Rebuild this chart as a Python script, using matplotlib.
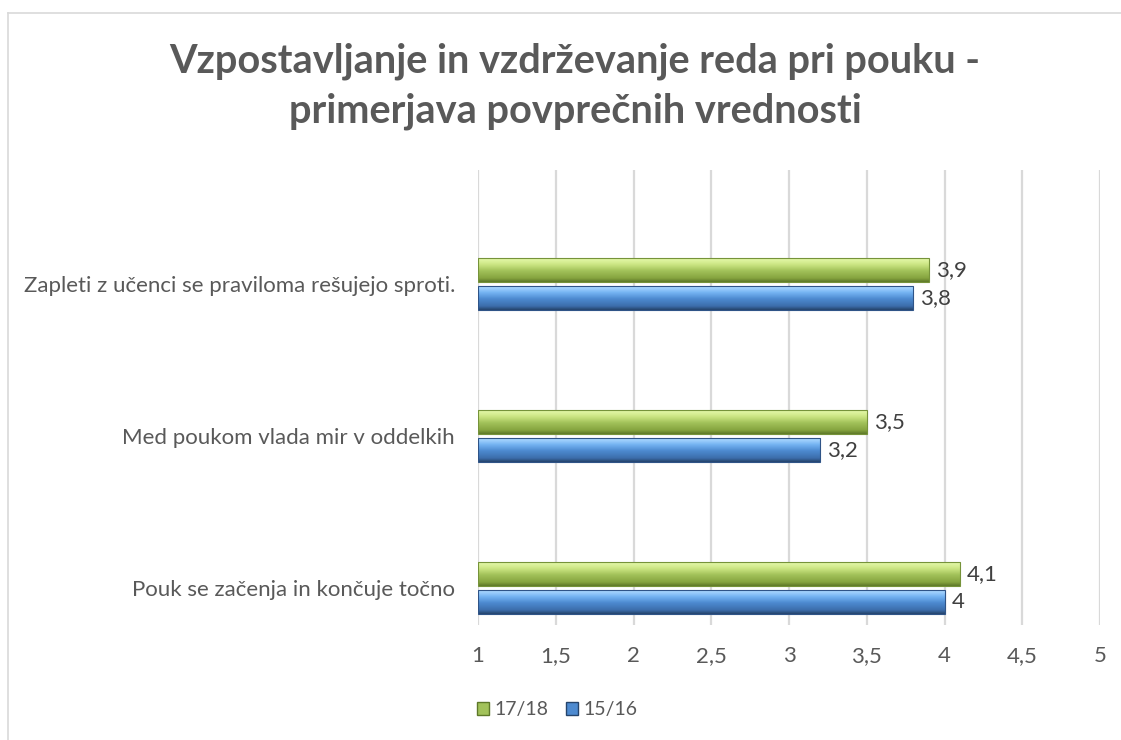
import numpy as np
import matplotlib.pyplot as plt
from matplotlib.colors import LinearSegmentedColormap
from matplotlib.patches import Patch
from matplotlib.lines import Line2D

# data
categories = ['Pouk se začenja in končuje točno',
              'Med poukom vlada mir v oddelkih',
              'Zapleti z učenci se praviloma rešujejo sproti.']
values_1718 = [4.1, 3.5, 3.9]
values_1516 = [4.0, 3.2, 3.8]
series_names = ['17/18', '15/16']
xticks = [1, 1.5, 2, 2.5, 3, 3.5, 4, 4.5, 5]

plt.rcParams['font.family'] = ['Lato', 'DejaVu Sans']
text_color = '#595959'
fs = 16

fig = plt.figure(figsize=(11.21, 7.40), dpi=100)
ax = fig.add_axes([478 / 1121, 1 - 625 / 740, 622 / 1121, 455 / 740])

# bevel-like gradients (top -> bottom)
green_cmap = LinearSegmentedColormap.from_list('g', [
    (0.0, '#9ab850'), (0.08, '#e2f7a6'), (0.3, '#cbe582'),
    (0.55, '#a2c25a'), (0.85, '#86a43f'), (1.0, '#5e7829')])
blue_cmap = LinearSegmentedColormap.from_list('b', [
    (0.0, '#5a92d2'), (0.08, '#a8d6ff'), (0.3, '#74b3f2'),
    (0.55, '#4d8ad0'), (0.85, '#3c6dab'), (1.0, '#25446c')])

y = np.arange(len(categories))
h = 0.158
off = 0.09
grad = np.linspace(0, 1, 64).reshape(-1, 1)

bars_g = ax.barh(y + off, np.array(values_1718) - 1, left=1, height=h,
                 facecolor='none', edgecolor='#76933a', linewidth=0.8, zorder=3)
bars_b = ax.barh(y - off, np.array(values_1516) - 1, left=1, height=h,
                 facecolor='none', edgecolor='#2f5487', linewidth=0.8, zorder=3)

for bars, cmap in [(bars_g, green_cmap), (bars_b, blue_cmap)]:
    for p in bars:
        x0, y0 = p.get_x(), p.get_y()
        im = ax.imshow(grad, cmap=cmap, aspect='auto', origin='upper',
                       extent=[x0, x0 + p.get_width(), y0, y0 + p.get_height()],
                       zorder=2, interpolation='bilinear')
        im.set_clip_path(p)

# data labels
for bars, vals in [(bars_g, values_1718), (bars_b, values_1516)]:
    for p, v in zip(bars, vals):
        ax.annotate(f'{v:g}'.replace('.', ','),
                    (p.get_x() + p.get_width(), p.get_y() + p.get_height() / 2),
                    xytext=(7, 0), textcoords='offset pixels',
                    ha='left', va='center', fontsize=fs, color='#404040')

ax.set_xlim(1, 5)
ax.set_ylim(-0.243, 2.75)
ax.set_xticks(xticks)
ax.set_xticklabels([f'{t:g}'.replace('.', ',') for t in xticks])
ax.set_yticks(y)
ax.set_yticklabels(categories)
ax.tick_params(axis='both', length=0, labelsize=fs, labelcolor=text_color)
ax.tick_params(axis='x', pad=15)
ax.tick_params(axis='y', pad=16.5)
ax.grid(axis='x', color='#d9d9d9', linewidth=1.6)
ax.set_axisbelow(True)
for s in ax.spines.values():
    s.set_visible(False)

# title
tx = 575 / 1121
fig.text(tx, 1 - 73 / 740, 'Vzpostavljanje in vzdrževanje reda pri pouku -',
         ha='center', va='baseline', fontsize=28.6, fontweight='bold', color=text_color)
fig.text(tx, 1 - 123 / 740, 'primerjava povprečnih vrednosti',
         ha='center', va='baseline', fontsize=28.6, fontweight='bold', color=text_color)

# legend
handles = [Patch(facecolor='#a2c25a', edgecolor='#5e7829'),
           Patch(facecolor='#4d8ad0', edgecolor='#25446c')]
fig.legend(handles, series_names, loc='center', bbox_to_anchor=(557 / 1121, 1 - 710 / 740),
           ncol=2, frameon=False, fontsize=14, labelcolor=text_color,
           handlelength=0.65, handleheight=0.65, handletextpad=0.25, columnspacing=0.9)

# chart frame
fig.add_artist(Line2D([7.5 / 1121, 1], [1 - 12.5 / 740, 1 - 12.5 / 740],
                      color='#d9d9d9', linewidth=1.2))
fig.add_artist(Line2D([7.5 / 1121, 7.5 / 1121], [0, 1 - 12.5 / 740],
                      color='#d9d9d9', linewidth=1.2))

fig.savefig('out.png', dpi=100)
